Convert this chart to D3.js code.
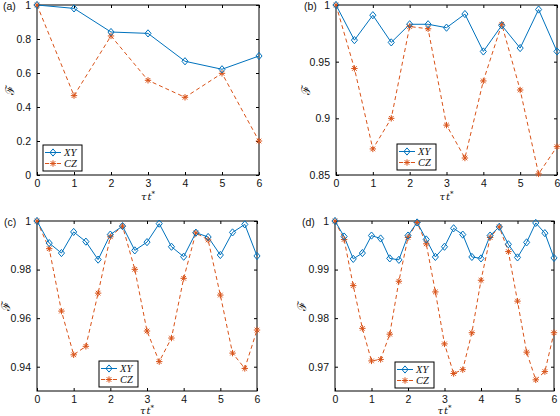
<!DOCTYPE html>
<html>
<head>
<meta charset="utf-8">
<script src="https://cdn.jsdelivr.net/npm/d3@7"></script>
<style>
  html, body { margin: 0; padding: 0; background: #fff; }
  svg { display: block; }
</style>
</head>
<body>
<svg id="chart" width="560" height="416"></svg>
<script>
// ---------------- data ----------------
const xA = [0, 1, 2, 3, 4, 5, 6];
const xyA = [1.0, 0.980, 0.841, 0.833, 0.669, 0.622, 0.700];
const czA = [1.0, 0.467, 0.818, 0.557, 0.457, 0.598, 0.200];
const yTicksA = [0, 0.2, 0.4, 0.6, 0.8, 1];

const xB = [0, 0.5, 1, 1.5, 2, 2.5, 3, 3.5, 4, 4.5, 5, 5.5, 6];
const xyB = [1.0, 0.969, 0.991, 0.967, 0.983, 0.983, 0.980, 0.992, 0.959, 0.982, 0.962, 0.996, 0.959];
const czB = [1.0, 0.944, 0.873, 0.900, 0.981, 0.979, 0.894, 0.865, 0.933, 0.983, 0.925, 0.851, 0.875];
const yTicksB = [0.85, 0.9, 0.95, 1];

const xC = [0, 0.333, 0.667, 1, 1.333, 1.667, 2, 2.333, 2.667, 3, 3.333, 3.667, 4, 4.333, 4.667, 5, 5.333, 5.667, 6];
const xyC = [1.0, 0.9909, 0.9868, 0.9955, 0.9915, 0.9841, 0.9944, 0.9979, 0.9879, 0.9913, 0.9989, 0.9894, 0.9853, 0.9952, 0.9934, 0.9860, 0.9953, 0.9986, 0.9856];
const czC = [1.0, 0.9886, 0.9629, 0.9449, 0.9484, 0.9703, 0.9935, 0.9979, 0.9801, 0.9547, 0.9421, 0.9518, 0.9764, 0.9951, 0.9922, 0.9695, 0.9456, 0.9393, 0.9551];
const yTicksC = [0.94, 0.96, 0.98, 1];

const xD = [0, 0.25, 0.5, 0.75, 1, 1.25, 1.5, 1.75, 2, 2.25, 2.5, 2.75, 3, 3.25, 3.5, 3.75, 4, 4.25, 4.5, 4.75, 5, 5.25, 5.5, 5.75, 6];
const xyD = [1.0, 0.9968, 0.9922, 0.9934, 0.9970, 0.9964, 0.9923, 0.9920, 0.9970, 0.9997, 0.9962, 0.9926, 0.9947, 0.9985, 0.9972, 0.9926, 0.9923, 0.9970, 0.9988, 0.9952, 0.9925, 0.9956, 0.9996, 0.9975, 0.9924];
const czD = [1.0, 0.9962, 0.9867, 0.9779, 0.9712, 0.9715, 0.9767, 0.9876, 0.9966, 0.9997, 0.9953, 0.9854, 0.9747, 0.9686, 0.9694, 0.9770, 0.9878, 0.9966, 0.9988, 0.9937, 0.9835, 0.9730, 0.9673, 0.9690, 0.9770];
const yTicksD = [0.97, 0.98, 0.99, 1];

const xTicks = [0, 1, 2, 3, 4, 5, 6];
const seriesNames = ["XY", "CZ"];
const panelLabels = ["(a)", "(b)", "(c)", "(d)"];

// ---------------- layout ----------------
const BLUE = "#0072BD", ORANGE = "#D95319";
const panels = [
  { label: panelLabels[0], x: xA, xy: xyA, cz: czA, yDomain: [0, 1], yTicks: yTicksA,
    box: { l: 37, r: 259, t: 5, b: 175 }, legend: { x: 43, y: 145 }, labelPos: [3, 10], yLabX: 10, xLabDy: 25 },
  { label: panelLabels[1], x: xB, xy: xyB, cz: czB, yDomain: [0.85, 1], yTicks: yTicksB,
    box: { l: 336, r: 557, t: 5, b: 175 }, legend: { x: 397, y: 144 }, labelPos: [304, 10], yLabX: 306, xLabDy: 25 },
  { label: panelLabels[2], x: xC, xy: xyC, cz: czC, yDomain: [0.93, 1], yTicks: yTicksC,
    box: { l: 37, r: 257, t: 221, b: 391 }, legend: { x: 99, y: 361 }, labelPos: [4, 226], yLabX: 6, xLabDy: 22.5 },
  { label: panelLabels[3], x: xD, xy: xyD, cz: czD, yDomain: [0.965, 1], yTicks: yTicksD,
    box: { l: 335, r: 554, t: 221, b: 391 }, legend: { x: 395, y: 362 }, labelPos: [302, 226], yLabX: 302, xLabDy: 22.5 }
];

const svg = d3.select("#chart");
const SANS = "'Liberation Sans', Arial, Helvetica, sans-serif";
const SERIF = "'Liberation Serif', 'Times New Roman', serif";
const MATH = "'DejaVu Serif', serif";

function diamondPath(r) {
  const w = r * 0.85;
  return `M0,${-r}L${w},0L0,${r}L${-w},0Z`;
}
function asteriskPath(r) {
  const d = r * 0.72;
  return `M${-r},0L${r},0M0,${-r}L0,${r}M${-d},${-d}L${d},${d}M${-d},${d}L${d},${-d}`;
}

function drawMarkers(g, pts, kind, color) {
  g.selectAll(null).data(pts).enter().append("path")
    .attr("transform", d => `translate(${d[0]},${d[1]})`)
    .attr("d", kind === "diamond" ? diamondPath(3.6) : asteriskPath(3.2))
    .attr("fill", "none")
    .attr("stroke", color)
    .attr("stroke-width", 1);
}

panels.forEach(p => {
  const b = p.box;
  const x = d3.scaleLinear().domain([0, 6]).range([b.l, b.r]);
  const y = d3.scaleLinear().domain(p.yDomain).range([b.b, b.t]);
  const g = svg.append("g");

  const fmt = d => d3.format("~g")(d);
  const axB = g.append("g").attr("transform", `translate(0,${b.b})`)
    .call(d3.axisBottom(x).tickValues(xTicks).tickSize(-3).tickPadding(4.5).tickFormat(fmt));
  const axT = g.append("g").attr("transform", `translate(0,${b.t})`)
    .call(d3.axisTop(x).tickValues(xTicks).tickSize(-3).tickFormat(""));
  const axL = g.append("g").attr("transform", `translate(${b.l},0)`)
    .call(d3.axisLeft(y).tickValues(p.yTicks).tickSize(-3).tickPadding(6).tickFormat(fmt));
  const axR = g.append("g").attr("transform", `translate(${b.r},0)`)
    .call(d3.axisRight(y).tickValues(p.yTicks).tickSize(-3).tickFormat(""));
  [axB, axT, axL, axR].forEach(a => {
    a.select(".domain").remove();
    a.selectAll(".tick line").attr("stroke", "#000").attr("stroke-width", 1);
    a.selectAll(".tick text").attr("font-family", SANS).attr("font-size", 10.5).attr("fill", "#111");
  });

  g.append("rect").attr("x", b.l).attr("y", b.t)
    .attr("width", b.r - b.l).attr("height", b.b - b.t)
    .attr("fill", "none").attr("stroke", "#000").attr("stroke-width", 1);

  const line = d3.line().x(d => x(d[0])).y(d => y(d[1]));
  const czPts = p.x.map((v, i) => [v, p.cz[i]]);
  const xyPts = p.x.map((v, i) => [v, p.xy[i]]);
  g.append("path").attr("d", line(czPts)).attr("fill", "none")
    .attr("stroke", ORANGE).attr("stroke-width", 1).attr("stroke-dasharray", "4,3");
  g.append("path").attr("d", line(xyPts)).attr("fill", "none")
    .attr("stroke", BLUE).attr("stroke-width", 1);
  drawMarkers(g, czPts.map(d => [x(d[0]), y(d[1])]), "asterisk", ORANGE);
  drawMarkers(g, xyPts.map(d => [x(d[0]), y(d[1])]), "diamond", BLUE);

  g.append("text").attr("x", p.labelPos[0]).attr("y", p.labelPos[1])
    .attr("font-family", SANS).attr("font-size", 10.5).attr("fill", "#111").text(p.label);

  // Y label (script F)
  g.append("text")
    .attr("transform", `translate(${p.yLabX + 4},${(b.t + b.b) / 2}) rotate(-90)`)
    .attr("text-anchor", "middle")
    .attr("font-family", MATH).attr("font-size", 12)
    .attr("fill", "#111").text("\u2131");

  // X label τt*
  const xl = g.append("text").attr("x", (b.l + b.r) / 2).attr("y", b.b + p.xLabDy)
    .attr("text-anchor", "middle")
    .attr("font-family", MATH).attr("font-style", "italic").attr("font-size", 10).attr("fill", "#111");
  xl.append("tspan").text("\u03C4");
  xl.append("tspan").attr("dx", 1).text("t");
  xl.append("tspan").attr("dy", -4).attr("font-size", 7).attr("font-style", "normal").text("*");

  // Legend
  const L = p.legend;
  const lg = g.append("g").attr("transform", `translate(${L.x},${L.y})`);
  lg.append("rect").attr("x", 0).attr("y", 0).attr("width", 39).attr("height", 26)
    .attr("fill", "#fff").attr("stroke", "#000").attr("stroke-width", 1);
  const colors = [BLUE, ORANGE];
  const kinds = ["diamond", "asterisk"];
  seriesNames.forEach((name, i) => {
    const cy = 7.5 + i * 11;
    lg.append("line").attr("x1", 2).attr("x2", 18).attr("y1", cy).attr("y2", cy)
      .attr("stroke", colors[i]).attr("stroke-width", 1)
      .attr("stroke-dasharray", i === 1 ? "4,2" : null);
    drawMarkers(lg, [[10, cy]], kinds[i], colors[i]);
    lg.append("text").attr("x", 21).attr("y", cy + 3.5)
      .attr("font-family", SERIF).attr("font-style", "italic").attr("font-size", 10.5)
      .attr("fill", "#111").text(name);
  });
});
</script>
</body>
</html>
